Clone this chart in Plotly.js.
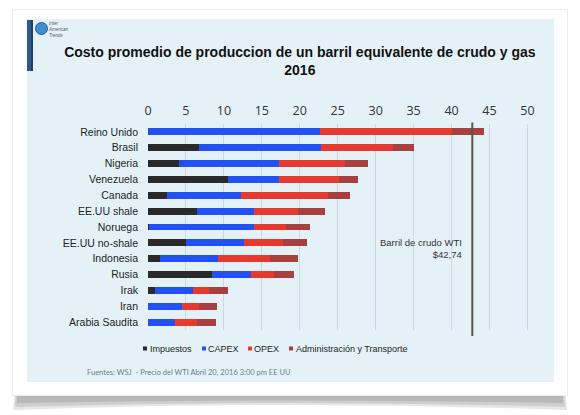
<!DOCTYPE html>
<html><head><meta charset="utf-8">
<script src="https://cdn.plot.ly/plotly-3.0.1.min.js"></script>
<style>html,body{margin:0;padding:0;background:#fff}#c{width:580px;height:415px}</style>
</head><body><div id="c"></div>
<script>
const categories = ["Reino Unido","Brasil","Nigeria","Venezuela","Canada","EE.UU shale","Noruega","EE.UU no-shale","Indonesia","Rusia","Irak","Iran","Arabia Saudita"];
const impuestos = [0, 6.66, 4.11, 10.54, 2.48, 6.42, 0.19, 5.03, 1.55, 8.44, 0.91, 0, 0];
const capex     = [22.67, 16.19, 13.10, 6.66, 9.71, 7.56, 13.76, 7.67, 7.65, 5.10, 5.03, 4.48, 3.50];
const opex      = [17.36, 9.45, 8.81, 7.97, 11.56, 5.85, 4.28, 5.15, 6.87, 3.04, 2.16, 2.21, 2.98];
const admin     = [4.30, 2.69, 2.97, 2.45, 2.89, 3.52, 3.08, 3.14, 3.64, 2.63, 2.47, 2.39, 2.50];
const seriesNames = ["Impuestos","CAPEX","OPEX","Administración y Transporte"];
const seriesColors = ["#2a2a2a","#2350f2","#e63a31","#a8403f"];
const xTicks = [0,5,10,15,20,25,30,35,40,45,50];
const wtiPrice = 42.74;
const wtiLabel = ["Barril de crudo WTI","$42,74"];
const titleText = "Costo promedio de produccion de un barril equivalente de crudo y gas<br>2016";
const sourceText = "Fuentes: WSJ  - Precio del WTI Abril 20, 2016 3:00 pm EE UU";

const W=580,H=415,L=148,R=45,T=124,B=85;
const pw=W-L-R, ph=H-T-B;
const px=p=>(p-L)/pw, py=p=>1-(p-T)/ph;

const values=[impuestos,capex,opex,admin];
const traces=values.map((v,i)=>({
  type:'bar',orientation:'h',y:categories,x:v,name:seriesNames[i],
  marker:{color:seriesColors[i],line:{width:0}},hoverinfo:'x+name'
}));

function rect(x0,y0,x1,y1,fill,extra){return Object.assign({type:'rect',xref:'paper',yref:'paper',x0:px(x0),x1:px(x1),y0:py(y1),y1:py(y0),fillcolor:fill,line:{width:0},layer:'below'},extra||{});}
function pth(pts,fill,op){return {type:'path',xref:'paper',yref:'paper',path:pts,fillcolor:fill,opacity:op,line:{width:0},layer:'below'};}
function P(x,y){return px(x)+','+py(y);}

const shapes=[
  pth('M'+P(15,388)+' L'+P(565,388)+' L'+P(567,410)+' Q'+P(290,400)+' '+P(13,410)+' Z','#9a9a9a',0.25),
  pth('M'+P(16,388)+' L'+P(564,388)+' L'+P(565,407)+' Q'+P(290,399)+' '+P(15,407)+' Z','#888',0.25),
  pth('M'+P(17,388)+' L'+P(563,388)+' L'+P(563,403)+' Q'+P(290,398)+' '+P(17,403)+' Z','#777',0.25),
  rect(12,9,568,396,'#ececec'),
  rect(13,10,567,395,'#ffffff'),
  rect(27,19,554,382,'#e4f2f8'),
  rect(27,20,33,71,'#2b5a8c'),
  rect(31,20,33,71,'#1d3f66'),
  {type:'circle',xref:'paper',yref:'paper',x0:px(35.5),x1:px(47.5),y0:py(34.5),y1:py(22.5),fillcolor:'#3d8fcf',line:{color:'#1f5f9a',width:1},layer:'below'},
  {type:'line',xref:'x',yref:'paper',x0:wtiPrice,x1:wtiPrice,y0:py(336),y1:py(122.5),line:{color:'#5b5547',width:2}}
];

const ann=[
  {xref:'x',yref:'paper',x:wtiPrice,xanchor:'right',xshift:-8,y:py(248),yanchor:'middle',align:'right',showarrow:false,
   text:wtiLabel.join('<br>'),font:{family:'Liberation Sans, Arial',size:9.5,color:'#333'}},
  {xref:'paper',yref:'paper',x:px(85),xanchor:'left',y:py(372),yanchor:'middle',showarrow:false,
   text:sourceText,font:{family:'Lato, Open Sans',size:7.5,color:'#6d7d8c'}},
  {xref:'paper',yref:'paper',x:px(46),xanchor:'left',y:py(29),yanchor:'middle',showarrow:false,align:'left',
   text:'<i>Inter<br>American<br>Trends</i>',font:{family:'Liberation Sans, Arial',size:4.5,color:'#555'}}
];
const legSq=[143,202,248,289];
const legTx=[148,206,252,294];
seriesNames.forEach((n,i)=>{
  shapes.push(rect(legSq[i],346.5,legSq[i]+4,350.5,seriesColors[i],{layer:'above'}));
  ann.push({xref:'paper',yref:'paper',x:px(legTx[i]),xanchor:'left',y:py(349),yanchor:'middle',showarrow:false,
    text:n,font:{family:'Liberation Sans, Arial',size:9,color:'#222'}});
});

const layout={
  width:W,height:H,margin:{l:L,r:R,t:T,b:B,pad:0},
  paper_bgcolor:'#ffffff',plot_bgcolor:'rgba(0,0,0,0)',
  barmode:'stack',bargap:0.56,showlegend:false,
  title:{text:titleText,x:0.517,xanchor:'center',xref:'container',y:1-57/H,yanchor:'top',yref:'container',
    font:{family:'Liberation Sans, Arial',size:14,color:'#111',weight:'bold'}},
  xaxis:{side:'top',range:[0,51],tickvals:xTicks,ticktext:xTicks.map(String),showgrid:true,gridcolor:'#cdd9e1',gridwidth:1,
    zeroline:false,showline:false,ticks:'',ticklabelstandoff:6,tickfont:{family:'Open Sans, Liberation Sans',size:12.5,color:'#333'}},
  yaxis:{autorange:'reversed',type:'category',showgrid:false,zeroline:false,showline:false,ticks:'',ticklabelstandoff:9,
    tickfont:{family:'Liberation Sans, Arial',size:10.5,color:'#222'}},
  shapes:shapes,annotations:ann
};
Plotly.newPlot('c',traces,layout,{displayModeBar:false,staticPlot:true});
</script></body></html>
